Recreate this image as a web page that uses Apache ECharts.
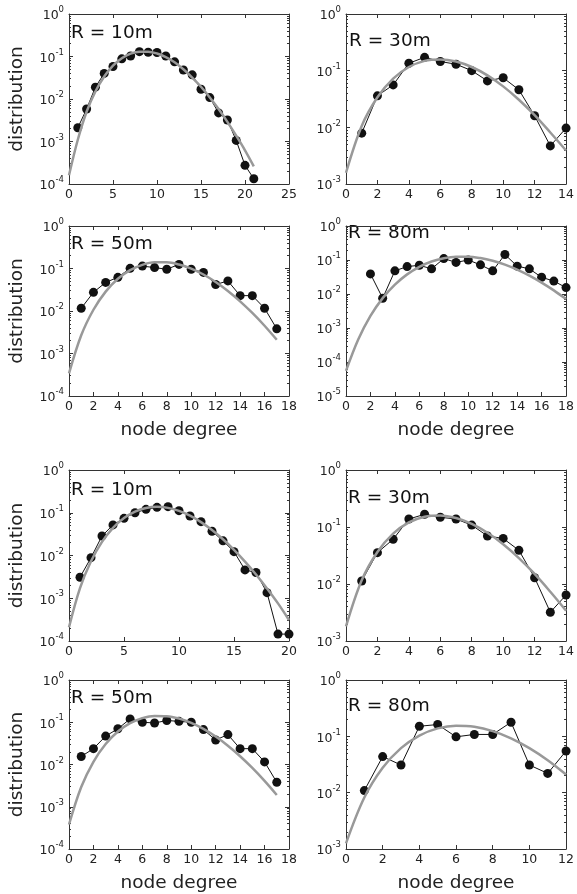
<!DOCTYPE html>
<html>
<head>
<meta charset="utf-8">
<script src="https://cdn.jsdelivr.net/npm/echarts@6/dist/echarts.min.js"></script>
<style>
html,body{margin:0;padding:0;background:#fff;}
#chart{width:577px;height:894px;}
</style>
</head>
<body>
<div id="chart"></div>
<script>
// ---------- Data ----------
// Panel 1: R = 10m (top block)
const p1X = [1,2,3,4,5,6,7,8,9,10,11,12,13,14,15,16,17,18,19,20,21];
const p1Data = [0.0021,0.0058,0.019,0.040,0.058,0.088,0.103,0.130,0.126,0.124,0.103,0.075,0.048,0.037,0.017,0.0108,0.0047,0.0032,0.00106,0.000275,0.000133];
const p1FitX = [0,1,2,3,4,5,6,7,8,9,10,11,12,13,14,15,16,17,18,19,20,21];
const p1Fit = [0.00016,0.0011,0.005,0.015,0.0337,0.0607,0.091,0.117,0.130,0.130,0.118,0.097,0.073,0.050,0.032,0.0194,0.0109,0.0058,0.0029,0.00137,0.00062,0.00026];

// Panel 2: R = 30m (top block)
const p2X = [1,2,3,4,5,6,7,8,9,10,11,12,13,14];
const p2Data = [0.0079,0.036,0.056,0.135,0.172,0.145,0.130,0.100,0.066,0.075,0.046,0.016,0.0047,0.0097];
const p2FitX = [0,1,2,3,4,5,6,7,8,9,10,11,12,13,14];
const p2Fit = [0.00158,0.0106,0.034,0.0726,0.116,0.149,0.158,0.145,0.116,0.0825,0.0528,0.0307,0.0164,0.0081,0.0039];

// Panel 3: R = 50m (top block)
const p3X = [1,2,3,4,5,6,7,8,9,10,11,12,13,14,15,16,17];
const p3Data = [0.0116,0.0275,0.047,0.062,0.101,0.114,0.105,0.096,0.125,0.096,0.081,0.042,0.051,0.023,0.023,0.0116,0.0038];
const p3FitX = [0,1,2,3,4,5,6,7,8,9,10,11,12,13,14,15,16,17];
const p3Fit = [0.00034,0.00268,0.0107,0.0286,0.0573,0.0916,0.122,0.1396,0.1396,0.124,0.0993,0.0722,0.0481,0.0296,0.0169,0.0090,0.0045,0.0021];

// Panel 4: R = 80m (top block)
const p4X = [2,3,4,5,6,7,8,9,10,11,12,13,14,15,16,17,18];
const p4Data = [0.039,0.0075,0.048,0.064,0.070,0.055,0.110,0.085,0.100,0.072,0.048,0.145,0.066,0.055,0.031,0.024,0.0154];
const p4FitX = [0,1,2,3,4,5,6,7,8,9,10,11,12,13,14,15,16,17,18];
const p4Fit = [0.000055,0.00046,0.00227,0.00757,0.0189,0.0378,0.0631,0.0901,0.1126,0.1251,0.1251,0.1137,0.0948,0.0729,0.0521,0.0347,0.0217,0.0128,0.0071];

// Panel 5: R = 10m (bottom block)
const p5X = [1,2,3,4,5,6,7,8,9,10,11,12,13,14,15,16,17,18,19,20];
const p5Data = [0.0031,0.0089,0.0286,0.052,0.074,0.100,0.120,0.134,0.139,0.112,0.084,0.062,0.037,0.022,0.0123,0.0046,0.0040,0.00135,0.000145,0.000145];
const p5FitX = [0,1,2,3,4,5,6,7,8,9,10,11,12,13,14,15,16,17,18,19,20];
const p5Fit = [0.00021,0.00173,0.00735,0.0208,0.0443,0.0752,0.1066,0.1294,0.1375,0.1299,0.1104,0.0853,0.0604,0.0395,0.0240,0.0136,0.0072,0.0036,0.0017,0.00076,0.00031];

// Panel 6: R = 30m (bottom block)
const p6X = [1,2,3,4,5,6,7,8,9,10,11,12,13,14];
const p6Data = [0.0113,0.0355,0.061,0.138,0.167,0.148,0.138,0.108,0.0695,0.063,0.039,0.0129,0.0032,0.0064];
const p6FitX = [0,1,2,3,4,5,6,7,8,9,10,11,12,13,14];
const p6Fit = [0.0018,0.0116,0.0364,0.0765,0.1205,0.1518,0.1594,0.1435,0.1130,0.0791,0.0498,0.0285,0.0150,0.0073,0.0034];

// Panel 7: R = 50m (bottom block)
const p7X = [1,2,3,4,5,6,7,8,9,10,11,12,13,14,15,16,17];
const p7Data = [0.0155,0.0237,0.047,0.070,0.120,0.100,0.096,0.110,0.105,0.100,0.067,0.038,0.051,0.0237,0.0237,0.0115,0.0038];
const p7FitX = [0,1,2,3,4,5,6,7,8,9,10,11,12,13,14,15,16,17];
const p7Fit = [0.00038,0.00293,0.0116,0.0305,0.0602,0.0951,0.1252,0.1413,0.1395,0.1225,0.0968,0.0695,0.0458,0.0278,0.0157,0.0083,0.0041,0.0019];

// Panel 8: R = 80m (bottom block)
const p8X = [1,2,3,4,5,6,7,8,9,10,11,12];
const p8Data = [0.0109,0.0437,0.031,0.151,0.162,0.098,0.108,0.108,0.178,0.031,0.022,0.055];
const p8FitX = [0,1,2,3,4,5,6,7,8,9,10,11,12];
const p8Fit = [0.00126,0.0082,0.0276,0.0617,0.1033,0.1385,0.1546,0.1480,0.1240,0.0923,0.0618,0.0377,0.0210];

// Panel titles and axis ranges
const panelTitles = ['R = 10m','R = 30m','R = 50m','R = 80m','R = 10m','R = 30m','R = 50m','R = 80m'];
const xMaxes = [25,14,18,18,20,14,18,12];
const xSteps = [5,2,2,2,5,2,2,2];
const yMins = [1e-4,1e-3,1e-4,1e-5,1e-4,1e-3,1e-4,1e-3];
const yMax = 1;
const xTitle = 'node degree';
const yTitle = 'distribution';

// ---------- Build chart ----------
const panelX = [p1X,p2X,p3X,p4X,p5X,p6X,p7X,p8X];
const panelData = [p1Data,p2Data,p3Data,p4Data,p5Data,p6Data,p7Data,p8Data];
const panelFitX = [p1FitX,p2FitX,p3FitX,p4FitX,p5FitX,p6FitX,p7FitX,p8FitX];
const panelFit = [p1Fit,p2Fit,p3Fit,p4Fit,p5Fit,p6Fit,p7Fit,p8Fit];

const FONT = 'DejaVu Sans';
const AX = '#333';
const gridPos = [
  {left:69, top:14, width:220, height:170},
  {left:346, top:14, width:221, height:170},
  {left:69, top:226, width:220, height:170},
  {left:346, top:226, width:221, height:170},
  {left:69, top:470, width:220, height:171},
  {left:346, top:470, width:221, height:171},
  {left:69, top:680, width:220, height:171},
  {left:346, top:680, width:221, height:171}
];
const titlePos = [[71,24],[349,32],[71,235],[348,224],[71,481],[348,489],[71,689],[348,697]];

function yFmt(v){
  const e = Math.round(Math.log10(v));
  return '{b|10}{s|' + (e < 0 ? '-' + (-e) : String(e)) + '}';
}
const yRich = {
  b:{fontSize:12.5, fontFamily:FONT, color:'#222', lineHeight:17, verticalAlign:'bottom'},
  s:{fontSize:8.5, fontFamily:FONT, color:'#222', lineHeight:10, verticalAlign:'top'}
};

const grids = [], xAxes = [], yAxes = [], series = [], graphics = [];
for (let i = 0; i < 8; i++) {
  grids.push(Object.assign({containLabel:false}, gridPos[i]));
  const isLeft = i % 2 === 0;
  const showXName = (i === 2 || i === 3 || i === 6 || i === 7);
  const baseX = {
    type:'value', gridIndex:i, min:0, max:xMaxes[i], interval:xSteps[i],
    axisLine:{show:true, onZero:false, lineStyle:{color:AX, width:1}},
    axisTick:{show:true, inside:true, length:4, lineStyle:{color:AX, width:1}},
    splitLine:{show:false}
  };
  xAxes.push(Object.assign({}, baseX, {
    position:'bottom',
    axisLabel:{fontSize:12.5, fontFamily:FONT, color:'#222', margin:4},
    name: showXName ? xTitle : '',
    nameLocation:'middle', nameGap:25,
    nameTextStyle:{fontSize:18.5, fontFamily:FONT, color:'#222'}
  }));
  xAxes.push(Object.assign({}, baseX, {position:'top', axisLabel:{show:false}}));
  const baseY = {
    type:'log', logBase:10, gridIndex:i, min:yMins[i], max:yMax,
    axisLine:{show:true, onZero:false, lineStyle:{color:AX, width:1}},
    axisTick:{show:true, inside:true, length:4, lineStyle:{color:AX, width:1}},
    minorTick:{show:true, splitNumber:9, length:2, lineStyle:{color:AX, width:1}},
    splitLine:{show:false}, minorSplitLine:{show:false}
  };
  yAxes.push(Object.assign({}, baseY, {
    position:'left',
    axisLabel:{formatter:yFmt, rich:yRich, margin:5},
    name: isLeft ? yTitle : '',
    nameLocation:'middle', nameRotate:90, nameGap:42,
    nameTextStyle:{fontSize:18.5, fontFamily:FONT, color:'#222'}
  }));
  yAxes.push(Object.assign({}, baseY, {position:'right', axisLabel:{show:false}}));

  const pts = panelX[i].map((x, k) => [x, panelData[i][k]]);
  const fit = panelFitX[i].map((x, k) => [x, panelFit[i][k]]);
  series.push({
    type:'line', xAxisIndex:2*i, yAxisIndex:2*i, data:pts,
    symbol:'circle', symbolSize:9, showSymbol:true,
    itemStyle:{color:'#111'}, lineStyle:{color:'#111', width:1},
    z:2, animation:false, silent:true
  });
  series.push({
    type:'line', xAxisIndex:2*i, yAxisIndex:2*i, data:fit,
    symbol:'none', smooth:0.35,
    lineStyle:{color:'#999', width:2.5},
    z:3, animation:false, silent:true
  });
  graphics.push({
    type:'text', left:titlePos[i][0], top:titlePos[i][1],
    style:{text:panelTitles[i], fontSize:18.5, fontFamily:FONT, fill:'#111'}
  });
}

const chart = echarts.init(document.getElementById('chart'), null, {renderer:'canvas'});
chart.setOption({
  animation:false,
  backgroundColor:'#fff',
  grid:grids, xAxis:xAxes, yAxis:yAxes, series:series, graphic:graphics
});
</script>
</body>
</html>
